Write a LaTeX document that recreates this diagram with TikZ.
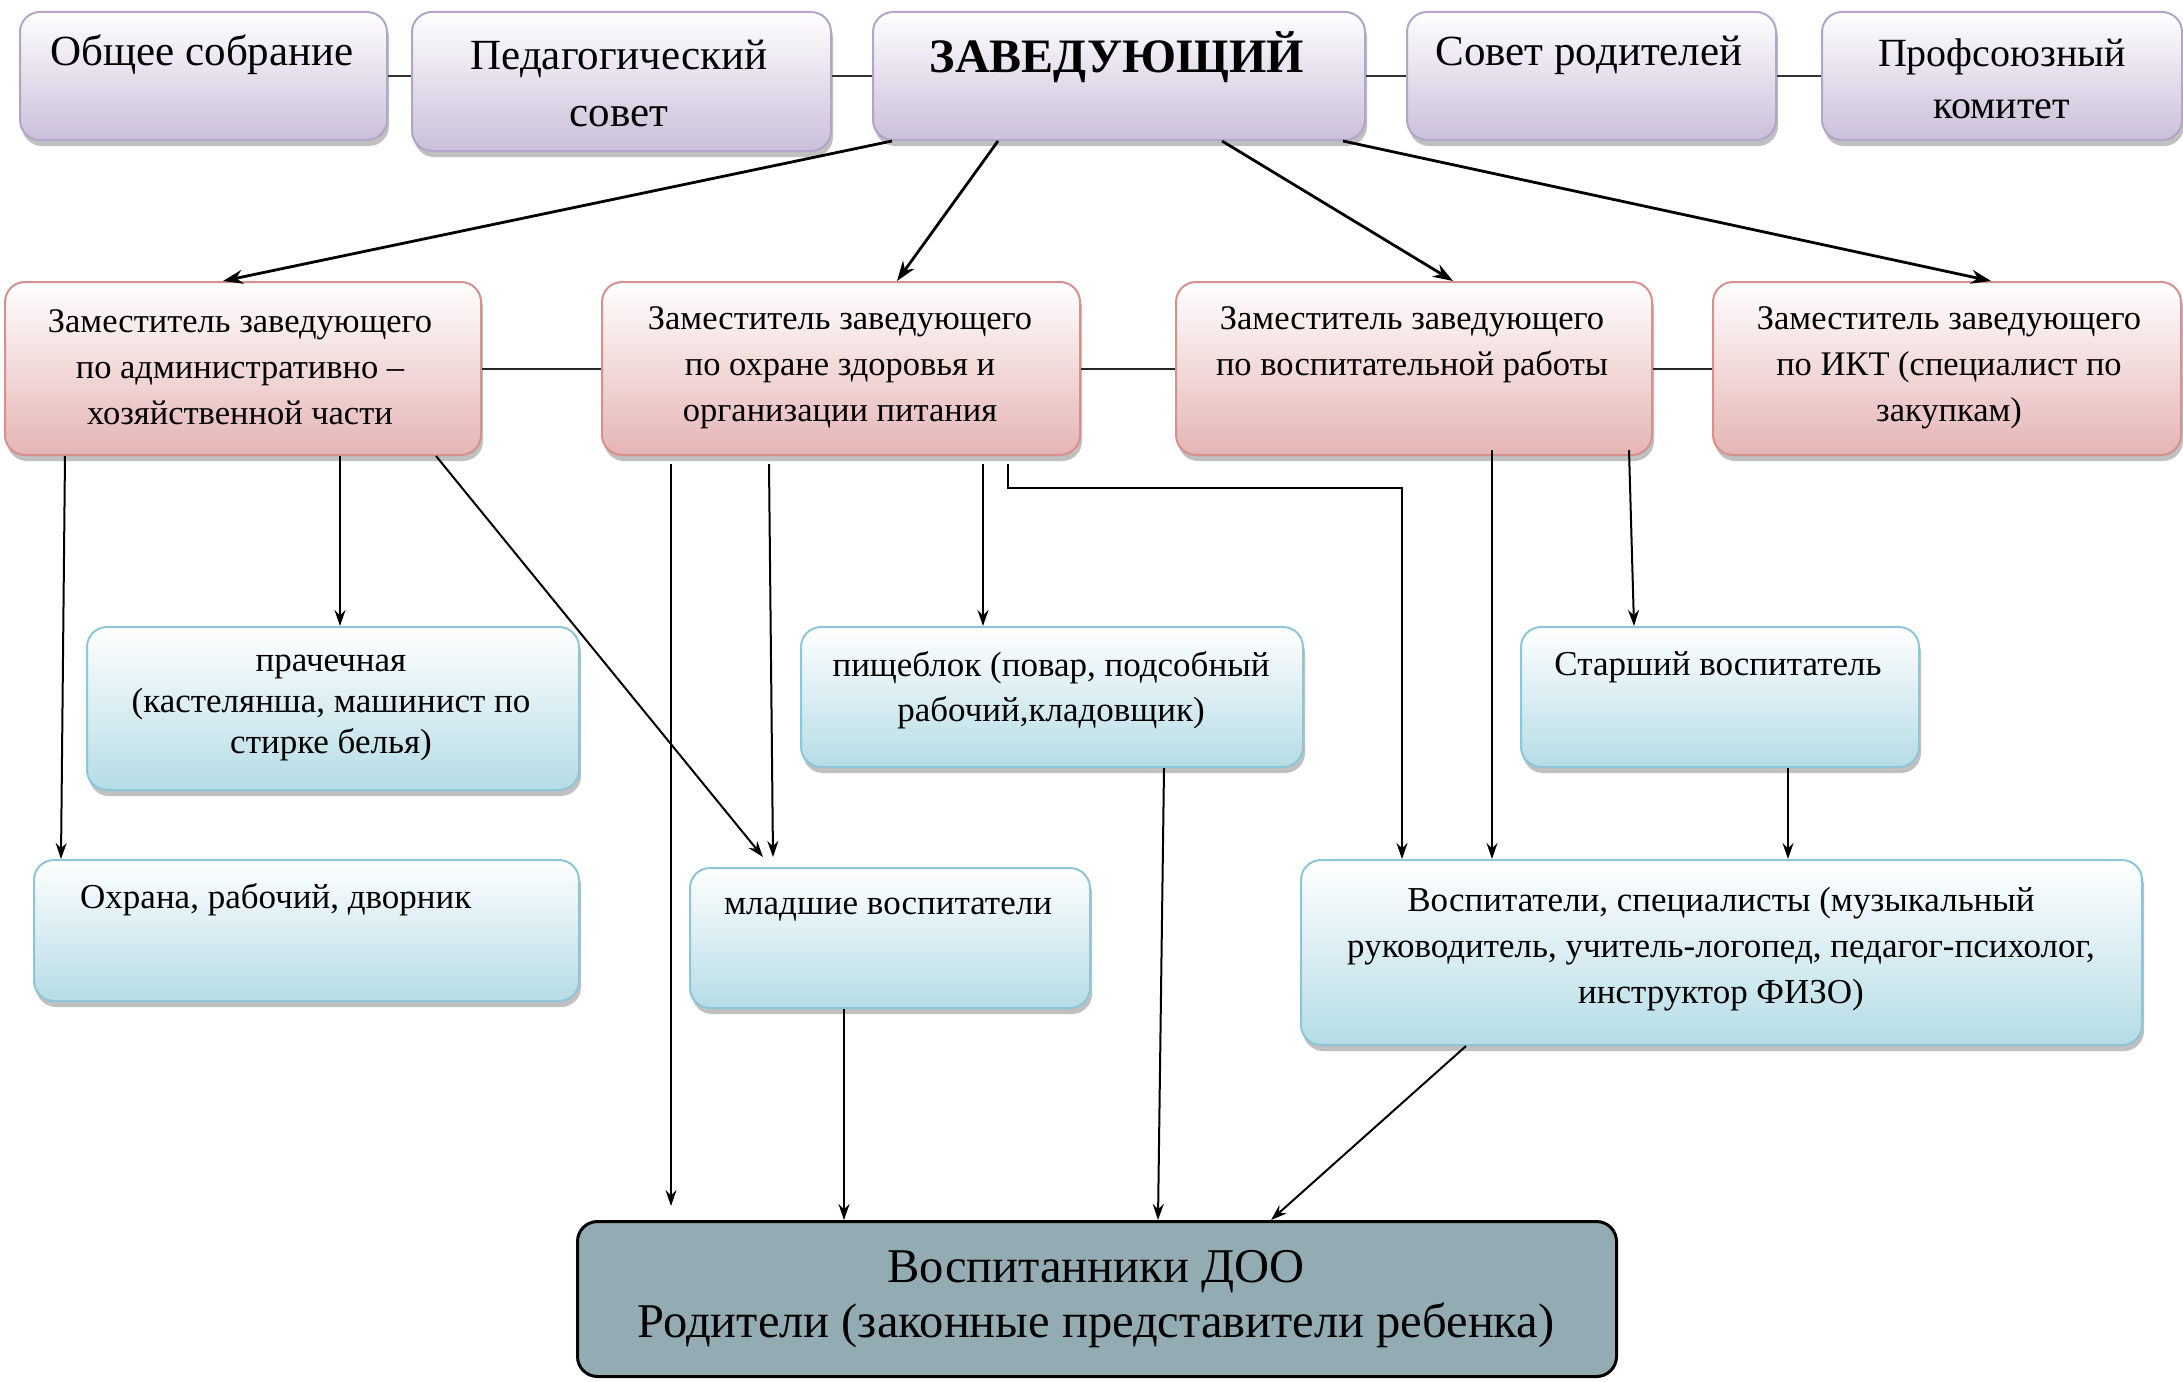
\documentclass[tikz,border=0pt]{standalone}
\usepackage{fontspec}
\setmainfont{Liberation Serif}
\usetikzlibrary{shadows,arrows.meta}
\definecolor{lav}{HTML}{CBBFDA}
\definecolor{lavb}{HTML}{B4A4C8}
\definecolor{pnk}{HTML}{E5B5B4}
\definecolor{pnkb}{HTML}{D6908E}
\definecolor{blu}{HTML}{B5DCE6}
\definecolor{blub}{HTML}{8CC6D8}
\definecolor{botf}{HTML}{93ACB4}
\tikzset{
  bx/.style={rounded corners=20pt, anchor=north west, line width=2pt, inner sep=0pt,
    drop shadow={shadow xshift=2pt, shadow yshift=-6pt, fill=black!55, opacity=.45}},
  topbox/.style={bx, draw=lavb, top color=white, bottom color=lav},
  pbox/.style={bx, draw=pnkb, top color=white, bottom color=pnk},
  bbox/.style={bx, draw=blub, top color=white, bottom color=blu},
  botbox/.style={rounded corners=20pt, anchor=north west, line width=3pt, inner sep=0pt, draw=black, fill=botf},
  ttop/.style={align=center, inner sep=0pt, font=\fontsize{43}{57}\selectfont},
  txt/.style={align=center, inner sep=0pt, font=\fontsize{34.5}{46}\selectfont},
  btxt/.style={align=center, inner sep=0pt, font=\fontsize{35}{46}\selectfont},
  tbot/.style={align=center, inner sep=0pt, font=\fontsize{48.5}{55}\selectfont},
  link/.style={line width=2.5pt, draw=black!80},
  hlink/.style={line width=2pt, draw=black!85},
  arr/.style={-{Stealth[length=16pt,width=11pt]}, line width=2pt},
  arrb/.style={-{Stealth[length=20pt,width=14pt]}, line width=2.8pt},
}
\begin{document}
\begin{tikzpicture}[x=1pt,y=-1pt]
\useasboundingbox (0,0) rectangle (2183,1381);
% top row
\node[topbox, minimum width=367pt, minimum height=128pt] (ob) at (19,11) {};
\node[topbox, minimum width=419pt, minimum height=139pt] (ped) at (411,11) {};
\node[topbox, minimum width=492pt, minimum height=128pt] (zav) at (872,11) {};
\node[topbox, minimum width=369pt, minimum height=128pt] (sov) at (1406,11) {};
\node[topbox, minimum width=360pt, minimum height=128pt] (prof) at (1821,11) {};
\node[ttop] (ob-t) at (202,55) {Общее собрание};
\node[ttop] (ped-t) at (619,83) {Педагогический\\совет};
\node[ttop, font=\fontsize{48}{57}\selectfont\bfseries] (zav-t) at (1117,57) {ЗАВЕДУЮЩИЙ};
\node[ttop] (sov-t) at (1589,55) {Совет родителей};
\node[ttop, font=\fontsize{40}{52}\selectfont] (prof-t) at (2002,79) {Профсоюзный\\комитет};
\draw[link] (ob.east) -- (ob.east -| ped.west);
\draw[link] (zav.west) -- (zav.west -| ped.east);
\draw[link] (zav.east) -- (zav.east -| sov.west);
\draw[link] (sov.east) -- (sov.east -| prof.west);
% second row
\node[pbox, minimum width=476pt, minimum height=173pt] (z1) at (4,281) {};
\node[pbox, minimum width=478pt, minimum height=173pt] (z2) at (601,281) {};
\node[pbox, minimum width=476pt, minimum height=173pt] (z3) at (1175,281) {};
\node[pbox, minimum width=468pt, minimum height=173pt] (z4) at (1712,281) {};
\node[txt] (z1-t) at (240,367) {Заместитель заведующего\\по административно –\\хозяйственной части};
\node[txt] (z2-t) at (840,368) {Заместитель заведующего\\по охране здоровья и\\организации питания};
\node[txt] (z3-t) at (1412,345) {Заместитель заведующего\\по воспитательной работы};
\node[txt] (z4-t) at (1949,368) {Заместитель заведующего\\по ИКТ (специалист по\\закупкам)};
\draw[hlink] (z1.east) -- (z2.west);
\draw[hlink] (z2.east) -- (z3.west);
\draw[hlink] (z3.east) -- (z4.west);
% third row
\node[bbox, minimum width=492pt, minimum height=163pt] (prach) at (86,626) {};
\node[bbox, minimum width=502pt, minimum height=140pt] (pish) at (800,626) {};
\node[bbox, minimum width=398pt, minimum height=140pt] (star) at (1520,626) {};
\node[btxt, font=\fontsize{35}{41}\selectfont] (prach-t) at (331,708) {прачечная\\(кастелянша, машинист по\\стирке белья)};
\node[btxt, font=\fontsize{35}{45}\selectfont] (pish-t) at (1051,690) {пищеблок (повар, подсобный\\рабочий,кладовщик)};
\node[btxt] (star-t) at (1718,667) {Старший воспитатель};
% fourth row
\node[bbox, minimum width=545pt, minimum height=141pt] (ohr) at (33,859) {};
\node[bbox, minimum width=400pt, minimum height=140pt] (mlad) at (689,867) {};
\node[bbox, minimum width=841pt, minimum height=185pt] (vosp) at (1300,859) {};
\node[btxt, anchor=west] (ohr-t) at (80,900) {Охрана, рабочий, дворник};
\node[btxt] (mlad-t) at (888,910) {младшие воспитатели};
\node[btxt] (vosp-t) at (1721,949) {Воспитатели, специалисты (музыкальный\\руководитель, учитель-логопед, педагог-психолог,\\инструктор ФИЗО)};
% bottom
\node[botbox, minimum width=1039pt, minimum height=155pt] (bot) at (576,1220) {};
\node[tbot] (bot-t) at (1096,1299) {Воспитанники ДОО\\Родители (законные представители ребенка)};
% arrows from head
\draw[arrb] ([xshift=20pt]zav.south west) -- ([xshift=219pt]z1.north west);
\draw[arrb] ([xshift=126pt]zav.south west) -- ([xshift=296pt]z2.north west);
\draw[arrb] ([xshift=350pt]zav.south west) -- ([xshift=278pt]z3.north west);
\draw[arrb] ([xshift=471pt]zav.south west) -- ([xshift=279pt]z4.north west);
% from z1
\draw[arr] ([xshift=61pt]z1.south west) -- ([xshift=28pt]ohr.north west);
\draw[arr] ([xshift=336pt]z1.south west) -- ([xshift=254pt]prach.north west);
\draw[arr] ([xshift=432pt]z1.south west) -- ([xshift=74pt,yshift=10pt]mlad.north west);
% from z2
\draw[arr] ([xshift=70pt,yshift=-8pt]z2.south west) -- ([xshift=95pt,yshift=14pt]bot.north west);
\draw[arr] ([xshift=168pt,yshift=-8pt]z2.south west) -- ([xshift=84pt,yshift=10pt]mlad.north west);
\draw[arr] ([xshift=382pt,yshift=-8pt]z2.south west) -- ([xshift=183pt]pish.north west);
\draw[arr] ([xshift=407pt,yshift=-8pt]z2.south west) -- ++(0,24) -| ([xshift=102pt]vosp.north west);
% from z3
\draw[arr] ([xshift=317pt,yshift=6pt]z3.south west) -- ([xshift=192pt]vosp.north west);
\draw[arr] ([xshift=454pt,yshift=6pt]z3.south west) -- ([xshift=114pt]star.north west);
% others
\draw[arr] ([xshift=268pt]star.south west) -- ([xshift=488pt]vosp.north west);
\draw[arr] ([xshift=155pt]mlad.south west) -- ([xshift=268pt]bot.north west);
\draw[arr] ([xshift=364pt]pish.south west) -- ([xshift=582pt]bot.north west);
\draw[arr] ([xshift=166pt]vosp.south west) -- ([xshift=695pt]bot.north west);
\end{tikzpicture}
\end{document}
